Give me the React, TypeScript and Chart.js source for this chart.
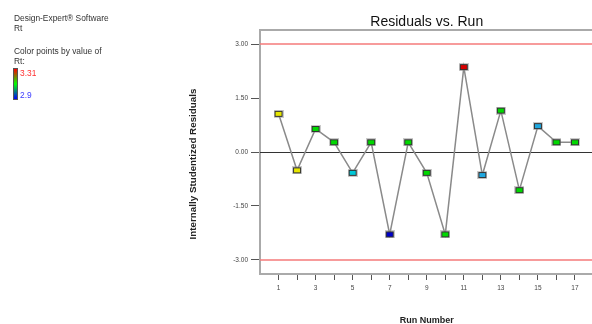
import React, { useEffect, useRef } from "react";
import { Chart, registerables } from "chart.js";

Chart.register(...registerables);

const runs = [1, 2, 3, 4, 5, 6, 7, 8, 9, 10, 11, 12, 13, 14, 15, 16, 17];
const residuals = [1.06, -0.51, 0.64, 0.27, -0.58, 0.27, -2.29, 0.27, -0.58, -2.29, 2.36, -0.64, 1.15, -1.06, 0.72, 0.27, 0.27];
const pointColors = [
  "#e6e600", "#e6e600", "#00d800", "#00d800", "#00c8d8", "#00d800", "#0000c8", "#00d800", "#00d800",
  "#00d800", "#d80000", "#20a8e0", "#00d800", "#00d800", "#20a8e0", "#00d800", "#00d800",
];
const yTickValues = [3, 1.5, 0, -1.5, -3];
const xTickValues = [1, 2, 3, 4, 5, 6, 7, 8, 9, 10, 11, 12, 13, 14, 15, 16, 17];
const limitValues = [3, -3];
const titleText = "Residuals vs. Run";
const xTitle = "Run Number";
const yTitle = "Internally Studentized Residuals";
const legendLines = ["Design-Expert® Software", "Rt", "Color points by value of", "Rt:"];
const legendHigh = "3.31";
const legendLow = "2.9";

const FONT = "'Liberation Sans', Arial, sans-serif";

function makeMarker(color: string): HTMLCanvasElement {
  const c = document.createElement("canvas");
  c.width = 10;
  c.height = 8;
  const g = c.getContext("2d")!;
  g.fillStyle = "rgba(150,150,150,0.5)";
  g.fillRect(0, 0, 10, 8);
  g.fillStyle = "#333";
  g.fillRect(1, 1, 8, 6);
  g.fillStyle = color;
  g.fillRect(2, 2, 6, 4);
  return c;
}

const decorPlugin = {
  id: "decor",
  beforeDatasetsDraw(chart: any) {
    const { ctx, chartArea, scales } = chart;
    const y = scales.y;
    ctx.save();
    ctx.strokeStyle = "#333";
    ctx.lineWidth = 1;
    const y0 = Math.round(y.getPixelForValue(0)) + 0.5;
    ctx.beginPath();
    ctx.moveTo(chartArea.left, y0);
    ctx.lineTo(chartArea.right, y0);
    ctx.stroke();
    ctx.strokeStyle = "#f47a7a";
    ctx.lineWidth = 1.5;
    for (const v of limitValues) {
      const py = y.getPixelForValue(v);
      ctx.beginPath();
      ctx.moveTo(chartArea.left, py);
      ctx.lineTo(chartArea.right, py);
      ctx.stroke();
    }
    ctx.strokeStyle = "#aaaaaa";
    ctx.lineWidth = 2;
    ctx.beginPath();
    ctx.moveTo(chartArea.left - 1, chartArea.top);
    ctx.lineTo(chartArea.right, chartArea.top);
    ctx.stroke();
    ctx.restore();
  },
  afterDraw(chart: any) {
    const { ctx, chartArea } = chart;
    ctx.save();
    const cx = (chartArea.left + chartArea.right) / 2;
    ctx.fillStyle = "#111";
    ctx.textAlign = "center";
    ctx.textBaseline = "middle";
    ctx.font = `14px ${FONT}`;
    ctx.fillText(titleText, cx, 22);
    ctx.font = `bold 9px ${FONT}`;
    ctx.fillStyle = "#222";
    ctx.fillText(xTitle, cx, 321);
    ctx.save();
    ctx.translate(193, 164);
    ctx.rotate(-Math.PI / 2);
    ctx.font = `bold 9.8px ${FONT}`;
    ctx.fillText(yTitle, 0, 0);
    ctx.restore();
    ctx.textAlign = "left";
    ctx.font = `8.4px ${FONT}`;
    ctx.fillStyle = "#333";
    const ys = [19, 29, 52, 62];
    legendLines.forEach((t, i) => ctx.fillText(t, 14, ys[i]));
    const grad = ctx.createLinearGradient(0, 69, 0, 99);
    grad.addColorStop(0, "#ff0000");
    grad.addColorStop(0.5, "#00ff00");
    grad.addColorStop(1, "#0000ff");
    ctx.fillStyle = grad;
    ctx.fillRect(14, 69, 3, 30);
    ctx.strokeStyle = "#555";
    ctx.lineWidth = 1;
    ctx.strokeRect(13.5, 68.5, 4, 31);
    ctx.fillStyle = "#ff3030";
    ctx.fillText(legendHigh, 20, 74);
    ctx.fillStyle = "#3a3aff";
    ctx.fillText(legendLow, 20, 96);
    ctx.restore();
  },
};

export default function App() {
  const ref = useRef<HTMLCanvasElement>(null);
  useEffect(() => {
    const markers = pointColors.map(makeMarker);
    const chart = new Chart(ref.current!, {
      type: "line",
      data: {
        datasets: [
          {
            data: runs.map((r, i) => ({ x: r, y: residuals[i] })),
            borderColor: "#8a8a8a",
            borderWidth: 1.5,
            pointStyle: markers as any,
            pointRadius: 5,
            tension: 0,
          },
        ],
      },
      options: {
        responsive: false,
        animation: false,
        layout: { padding: { top: 30, left: 0, right: 0, bottom: 0 } },
        plugins: { legend: { display: false }, tooltip: { enabled: false }, title: { display: false } },
        scales: {
          x: {
            type: "linear",
            min: 0,
            max: 18,
            afterBuildTicks: (s: any) => {
              s.ticks = xTickValues.map((v) => ({ value: v }));
            },
            afterFit: (s: any) => {
              s.height = 50;
            },
            ticks: {
              autoSkip: false,
              maxRotation: 0,
              padding: 4,
              color: "#444",
              font: { family: FONT, size: 6.5 },
              callback: (v: any) => (Number(v) % 2 === 1 ? String(v) : ""),
            },
            grid: { drawOnChartArea: false, drawTicks: true, tickLength: 6, color: "#555" },
            border: { display: true, color: "#aaaaaa", width: 2 },
          },
          y: {
            type: "linear",
            min: -3.39,
            max: 3.39,
            afterBuildTicks: (s: any) => {
              s.ticks = yTickValues.map((v) => ({ value: v }));
            },
            afterFit: (s: any) => {
              s.width = 260;
            },
            ticks: {
              padding: 3,
              color: "#444",
              font: { family: FONT, size: 6.5 },
              callback: (v: any) => Number(v).toFixed(2),
            },
            grid: { drawOnChartArea: false, drawTicks: true, tickLength: 9, color: "#555" },
            border: { display: true, color: "#aaaaaa", width: 2 },
          },
        },
      },
      plugins: [decorPlugin],
    });
    return () => chart.destroy();
  }, []);
  return (
    <div style={{ position: "absolute", left: 0, top: 0, width: 592, height: 324, overflow: "hidden", background: "#fff" }}>
      <canvas ref={ref} width={600} height={324} style={{ display: "block", width: 600, height: 324 }} />
    </div>
  );
}
